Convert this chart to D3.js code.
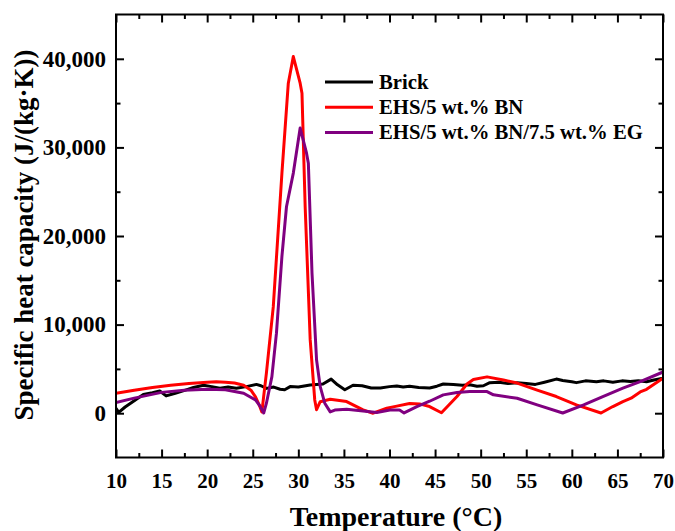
<!DOCTYPE html>
<html>
<head>
<meta charset="utf-8">
<script src="https://cdn.jsdelivr.net/npm/d3@7"></script>
<style>
  html, body { margin: 0; padding: 0; background: #fff; }
  svg text { font-family: "Liberation Serif", "Times New Roman", serif; font-weight: bold; fill: #000; }
</style>
</head>
<body>
<svg id="chart" width="675" height="531"></svg>
<script>
// Temperature (°C) and specific heat capacity (J/(kg·K)) for each sample
const brickT = [10, 10.3, 11, 12, 13, 14, 14.8, 15.5, 16.5, 17.7, 18.5, 19.6, 20.5, 21.4, 22.3, 23.2, 24.3, 25.4, 25.9, 26.5, 27.3, 28, 28.5, 29.1, 30, 31.3, 32.7, 33.6, 34.3, 35.1, 36, 37, 38, 39, 40, 40.8, 41.5, 42.2, 43.2, 44.4, 45.2, 45.9, 47, 48, 48.8, 49.6, 50.3, 51, 52, 53, 54, 55, 56, 57, 58.3, 59, 60, 60.5, 61.5, 62.7, 63.5, 64.5, 65.5, 66.4, 67.3, 68.2, 69, 70];
const brickCp = [550, 100, 700, 1400, 2100, 2300, 2500, 1950, 2250, 2630, 2900, 3150, 3000, 2820, 2950, 2820, 3000, 3250, 3100, 2800, 2950, 2700, 2650, 3000, 2950, 3190, 3300, 3850, 3200, 2650, 3150, 3100, 2850, 2850, 3000, 3080, 2950, 3050, 2900, 2850, 3050, 3300, 3250, 3150, 3200, 3050, 3100, 3450, 3500, 3350, 3450, 3350, 3250, 3500, 3850, 3700, 3550, 3450, 3650, 3550, 3650, 3500, 3650, 3570, 3650, 3550, 3750, 3950];

const bnT = [10, 12, 14, 16, 18, 20, 21, 22, 23, 24, 24.8, 25.3, 25.7, 26.0, 26.5, 27.25, 28.2, 28.9, 29.45, 30.2, 30.4, 30.75, 31.3, 31.8, 32.0, 32.4, 33.5, 35.3, 37.1, 38.2, 39.7, 40.8, 42.2, 43.3, 44.4, 45.7, 47.4, 48.5, 49.2, 50.7, 52.5, 54, 56.2, 58.3, 60.5, 63.2, 64.5, 65.6, 66.5, 67.5, 68.2, 70];
const bnCp = [2250, 2600, 2900, 3150, 3350, 3500, 3550, 3500, 3400, 3150, 2600, 1850, 950, 150, 4550, 12000, 27100, 37250, 40250, 37250, 36100, 23300, 8300, 1500, 400, 1300, 1580, 1310, 370, 0, 560, 800, 1100, 1050, 750, 50, 1880, 3300, 3800, 4100, 3750, 3400, 2600, 1880, 940, 20, 750, 1310, 1700, 2400, 2700, 3950];

const bnEgT = [10, 12, 15, 17.5, 20, 22, 24, 25.3, 25.8, 26.2, 26.5, 27.1, 27.6, 28.2, 28.7, 29.45, 30.2, 30.9, 31.1, 31.5, 32.0, 32.4, 32.9, 33.5, 34.0, 35.3, 37.1, 38.6, 40.05, 41.1, 41.6, 43.0, 44.4, 45.9, 47.4, 48.8, 50.7, 51.4, 54, 56.2, 59.0, 61.3, 63.4, 65.6, 67.5, 70];
const bnEgCp = [1200, 1700, 2350, 2600, 2700, 2650, 2250, 1500, 800, 20, 1130, 4130, 9030, 17700, 23300, 27100, 32200, 29350, 28200, 15800, 6000, 3000, 1130, 150, 350, 450, 250, 80, 350, 350, 30, 750, 1350, 2070, 2330, 2440, 2440, 2070, 1690, 940, 20, 940, 1880, 2820, 3570, 4650];

const seriesNames = ["Brick", "EHS/5 wt.% BN", "EHS/5 wt.% BN/7.5 wt.% EG"];
const seriesColors = ["#000000", "#ff0000", "#800080"];

const xMajorTicks = [10, 15, 20, 25, 30, 35, 40, 45, 50, 55, 60, 65, 70];
const yMajorTicks = [0, 10000, 20000, 30000, 40000];
const yMinorTicks = [5000, 15000, 25000, 35000];
const xLabel = "Temperature (°C)";
const yLabel = "Specific heat capacity (J/(kg·K))";

const series = [
  { name: seriesNames[0], color: seriesColors[0], pts: brickT.map((t, i) => [t, brickCp[i]]) },
  { name: seriesNames[1], color: seriesColors[1], pts: bnT.map((t, i) => [t, bnCp[i]]) },
  { name: seriesNames[2], color: seriesColors[2], pts: bnEgT.map((t, i) => [t, bnEgCp[i]]) }
];

const svg = d3.select("#chart");
const plot = { left: 116, right: 663, top: 14.5, bottom: 457.5 };

const x = d3.scaleLinear().domain([10, 70]).range([plot.left, plot.right]);
const y = d3.scaleLinear().domain([-5000, 45000]).range([plot.bottom, plot.top]);

const xMinor = d3.range(12.5, 70, 5);
const fmt = d3.format(",");
const major = 8, minor = 4.5;

// clip curves to the frame
svg.append("defs").append("clipPath").attr("id", "clip")
  .append("rect").attr("x", plot.left).attr("y", plot.top)
  .attr("width", plot.right - plot.left).attr("height", plot.bottom - plot.top);

const line = d3.line().x(d => x(d[0])).y(d => y(d[1]));

const curves = svg.append("g").attr("clip-path", "url(#clip)");
series.forEach(s => {
  curves.append("path").datum(s.pts)
    .attr("d", line).attr("fill", "none")
    .attr("stroke", s.color).attr("stroke-width", 3)
    .attr("stroke-linejoin", "round").attr("stroke-linecap", "round");
});

// Axes: ticks point inward on all four sides
const bottomAxis = d3.axisBottom(x).tickValues(xMajorTicks).tickSize(-major).tickFormat(d3.format("d"));
const bottomMinor = d3.axisBottom(x).tickValues(xMinor).tickSize(-minor).tickFormat("");
const topAxis = d3.axisTop(x).tickValues(xMajorTicks).tickSize(-major).tickFormat("");
const topMinor = d3.axisTop(x).tickValues(xMinor).tickSize(-minor).tickFormat("");
const leftAxis = d3.axisLeft(y).tickValues(yMajorTicks).tickSize(-major).tickPadding(10).tickFormat(fmt);
const leftMinor = d3.axisLeft(y).tickValues(yMinorTicks).tickSize(-minor).tickFormat("");
const rightAxis = d3.axisRight(y).tickValues(yMajorTicks).tickSize(-major).tickFormat("");
const rightMinor = d3.axisRight(y).tickValues(yMinorTicks).tickSize(-minor).tickFormat("");

function styleAxis(size) {
  return g => {
    g.select(".domain").remove();
    g.selectAll(".tick line").attr("stroke", "#000").attr("stroke-width", 2);
    g.selectAll(".tick text").style("font-size", size + "px").attr("fill", "#000");
  };
}

svg.append("g").attr("transform", `translate(0,${plot.bottom})`).call(bottomAxis).call(styleAxis(21))
  .selectAll(".tick text").attr("dy", "0.71em").attr("y", 16);
svg.append("g").attr("transform", `translate(0,${plot.bottom})`).call(bottomMinor).call(styleAxis(21));
svg.append("g").attr("transform", `translate(0,${plot.top})`).call(topAxis).call(styleAxis(21));
svg.append("g").attr("transform", `translate(0,${plot.top})`).call(topMinor).call(styleAxis(21));
svg.append("g").attr("transform", `translate(${plot.left},0)`).call(leftAxis).call(styleAxis(23));
svg.append("g").attr("transform", `translate(${plot.left},0)`).call(leftMinor).call(styleAxis(23));
svg.append("g").attr("transform", `translate(${plot.right},0)`).call(rightAxis).call(styleAxis(21));
svg.append("g").attr("transform", `translate(${plot.right},0)`).call(rightMinor).call(styleAxis(21));

// frame
svg.append("rect")
  .attr("x", plot.left).attr("y", plot.top)
  .attr("width", plot.right - plot.left).attr("height", plot.bottom - plot.top)
  .attr("fill", "none").attr("stroke", "#000").attr("stroke-width", 2);

// axis titles
svg.append("text").attr("x", 396).attr("y", 526)
  .attr("text-anchor", "middle").style("font-size", "28px").text(xLabel);
svg.append("text")
  .attr("transform", `translate(33,${(plot.top + plot.bottom) / 2 - 1}) rotate(-90)`)
  .attr("text-anchor", "middle").style("font-size", "27px").text(yLabel);

// legend
const legend = svg.append("g").attr("transform", "translate(325,82)");
series.forEach((s, i) => {
  const row = legend.append("g").attr("transform", `translate(0,${i * 25.3})`);
  row.append("line").attr("x1", 0).attr("x2", 48).attr("y1", 0).attr("y2", 0)
    .attr("stroke", s.color).attr("stroke-width", 3);
  row.append("text").attr("x", 54).attr("y", 0).attr("dy", "0.33em")
    .style("font-size", "20.7px").text(s.name);
});
</script>
</body>
</html>
